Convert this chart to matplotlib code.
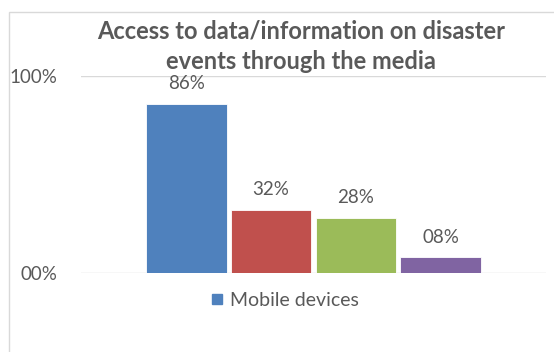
import matplotlib
matplotlib.use("Agg")
import matplotlib.pyplot as plt
from matplotlib.patches import Rectangle
from matplotlib.lines import Line2D

title = "Access to data/information on disaster\nevents through the media"
series_labels = ["Mobile devices", "Other 1", "Other 2", "Other 3"]
values = [0.86, 0.32, 0.28, 0.08]
value_labels = ["86%", "32%", "28%", "08%"]
colors = ["#4F81BD", "#C0504D", "#9BBB59", "#8064A2"]
yticks = [0.0, 1.0]
ytick_labels = ["00%", "100%"]

plt.rcParams['font.family'] = ['Lato', 'DejaVu Sans']
TXT = "#595959"
W, H = 554, 352
fig = plt.figure(figsize=(W/100, H/100), dpi=100)

# chart frame
fig.patches.append(Rectangle((9/W, -0.1), 1.2, (H-12)/H + 0.1, transform=fig.transFigure,
                             fill=False, edgecolor="#d9d9d9", linewidth=1.0))

ax = fig.add_axes([81/W, 79/H, 465/W, 197/H])
x = list(range(len(values)))
ax.bar(x, values, width=0.95, color=colors, edgecolor="white", linewidth=0.6, zorder=3)
ax.set_xlim(1.5 - 2.745, 1.5 + 2.745)
ax.set_ylim(0, 1)
ax.set_yticks(yticks)
ax.set_yticklabels(ytick_labels, fontsize=13.5, color=TXT)
ax.tick_params(axis='y', length=0, pad=17)
ax.set_xticks([])
for s in ax.spines.values():
    s.set_visible(False)
ax.grid(axis='y', color="#d9d9d9", linewidth=1.0, zorder=0)
for xi, v, lab in zip(x, values, value_labels):
    ax.annotate(lab, (xi, v), xytext=(0, 20), textcoords='offset pixels',
                ha='center', va='center', fontsize=13.5, color=TXT, zorder=4)

fig.text(301/W, 1 - 46/H, title, ha='center', va='center', fontsize=17,
         fontweight='bold', color=TXT, linespacing=1.42)

handle = Line2D([], [], marker='s', linestyle='none', color=colors[0], markersize=6.5)
fig.legend([handle], [series_labels[0]], loc='center', bbox_to_anchor=(284/W, 1 - 300/H),
           frameon=False, fontsize=14, labelcolor=TXT, handletextpad=0.3,
           handlelength=0.8)

fig.savefig("out.png", dpi=100)
